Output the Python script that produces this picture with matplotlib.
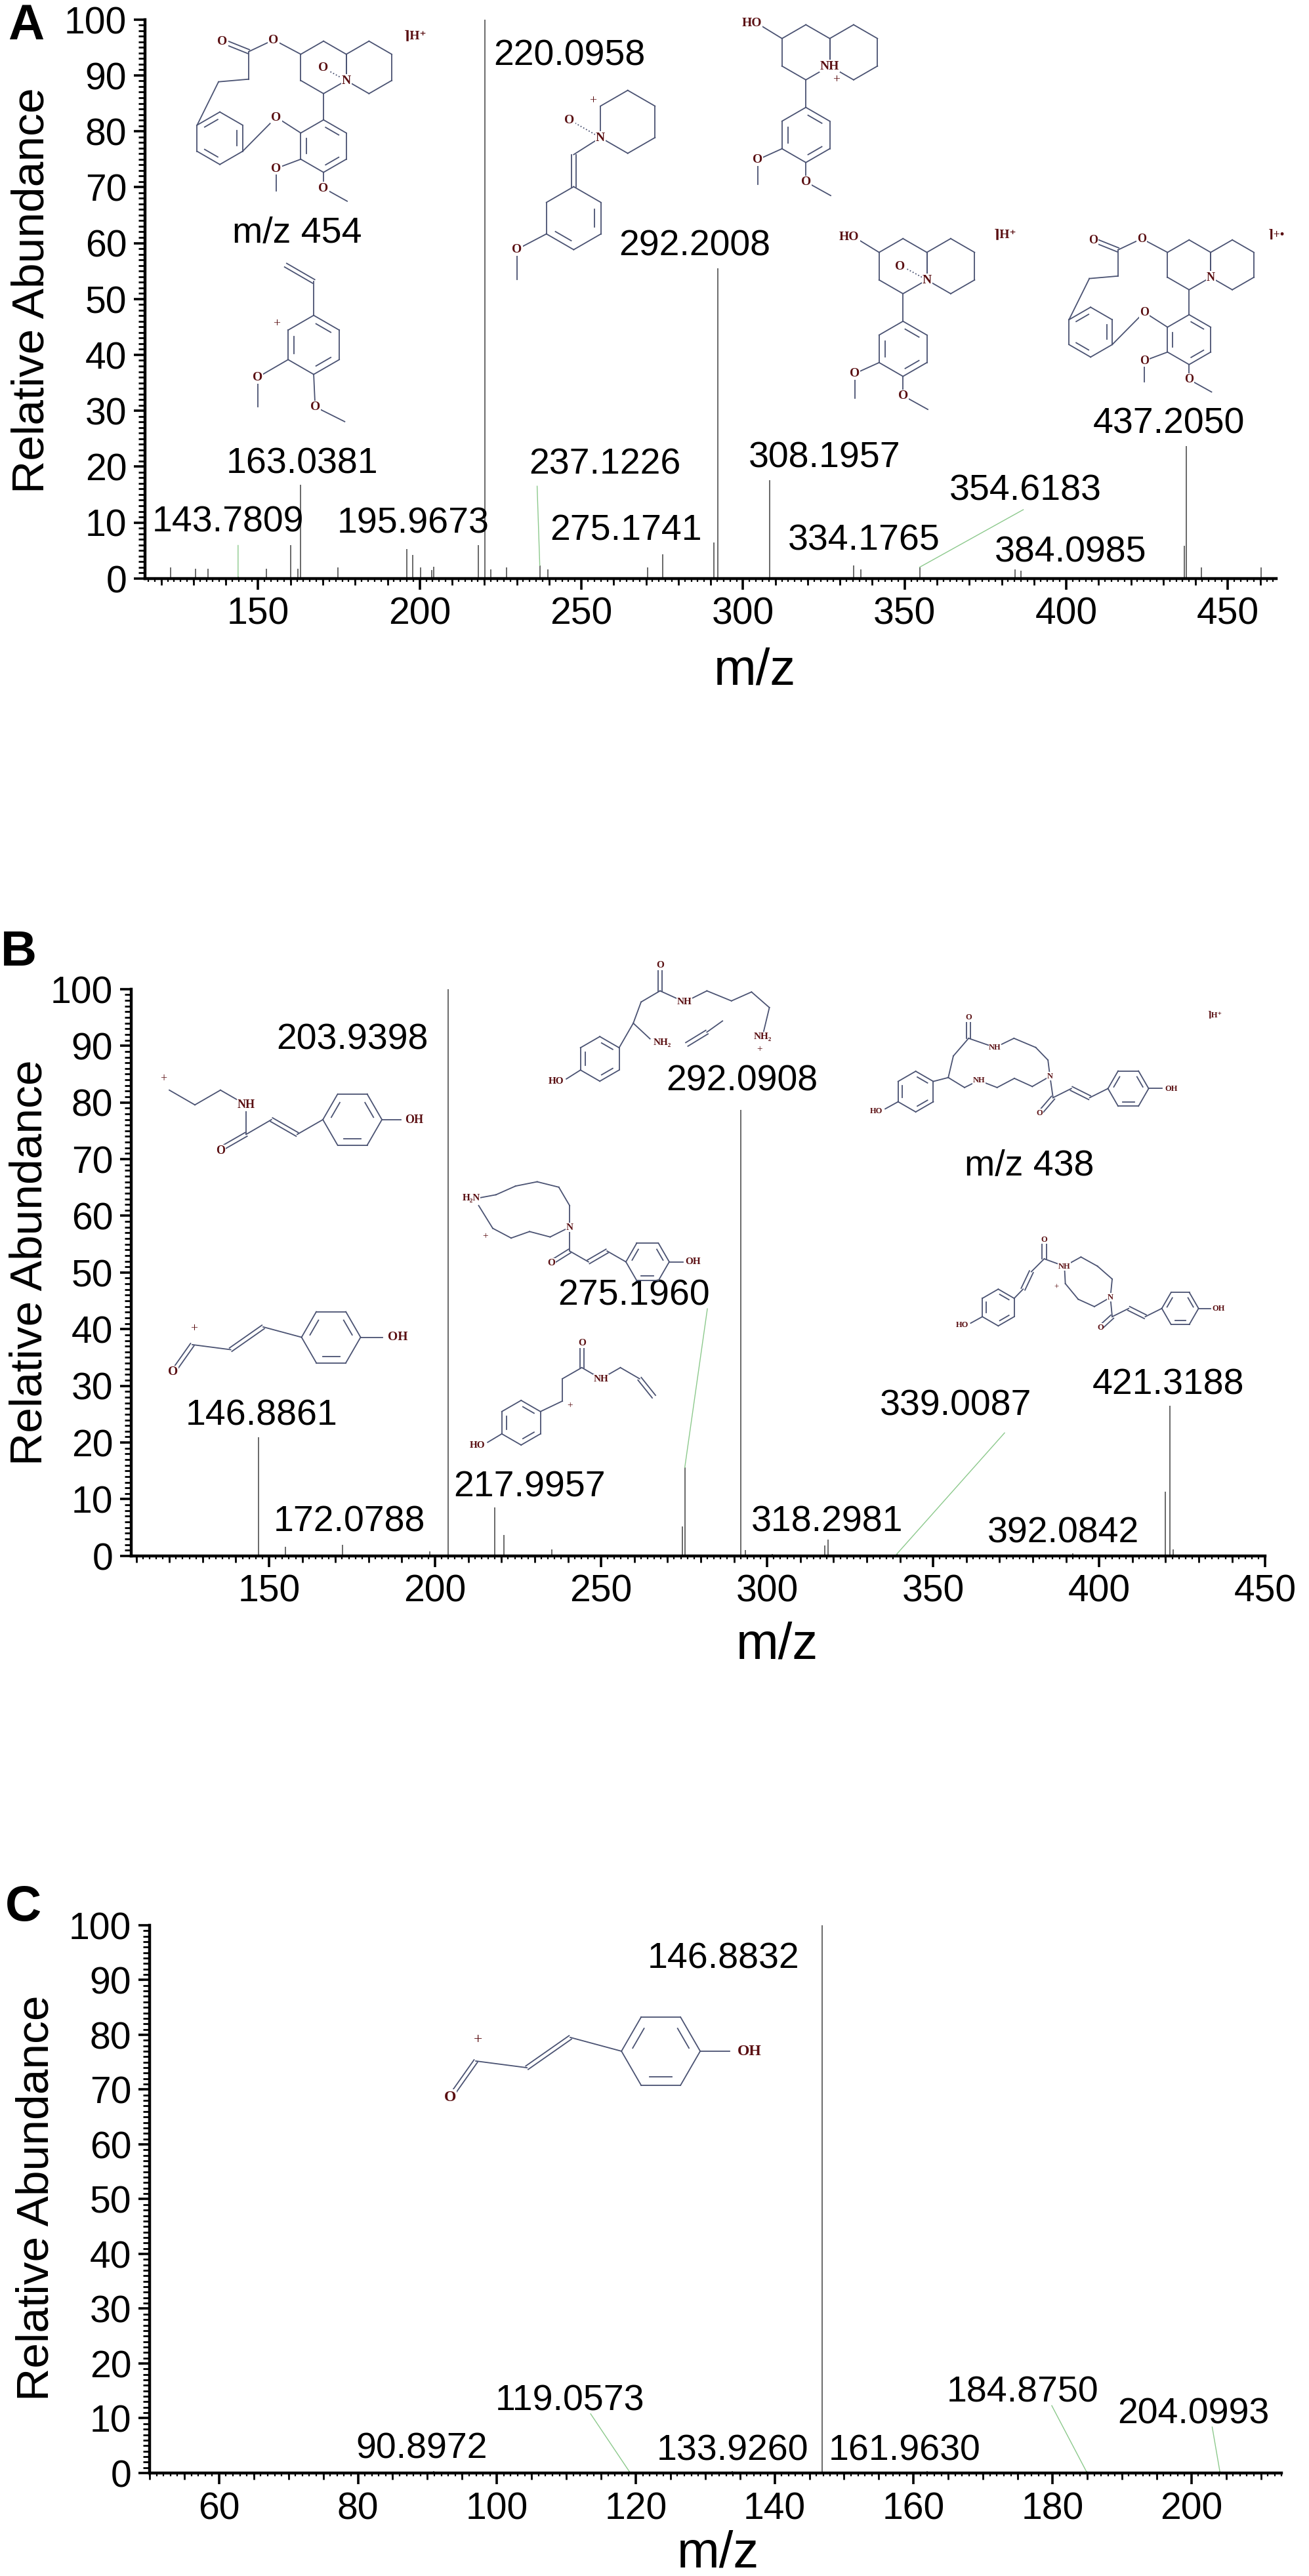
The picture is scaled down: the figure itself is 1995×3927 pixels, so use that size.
import numpy as np
import matplotlib
matplotlib.use('Agg')
import matplotlib.pyplot as plt
from matplotlib.ticker import MultipleLocator

plt.rcParams['font.family'] = ['Liberation Sans', 'DejaVu Sans']

W, H, DPI = 1995, 3927, 100
SERIF = ['Liberation Serif', 'DejaVu Serif']
PEAK = '#404040'
LEAD = '#8cc98c'
BOND = '#4a5272'
ATOM = '#5a0f12'

# ---------------- data (m/z, relative abundance) ----------------
a_mz = [123.0, 130.7, 134.5, 143.7809, 152.5, 160.0, 162.2, 163.0381, 174.6,
        195.9673, 197.8, 200.3, 203.6, 204.4, 218.2, 220.0958, 221.9, 226.8,
        237.1226, 239.7, 270.4, 275.1741, 291.0, 292.2008, 308.1957, 334.1765,
        336.5, 354.6183, 384.0985, 386.0, 436.5, 437.2050, 441.9, 460.2]
a_int = [2.0, 1.7, 1.7, 0.3, 1.7, 5.9, 1.7, 16.8, 2.0,
         5.2, 4.2, 2.0, 1.5, 2.1, 5.9, 100, 1.6, 2.0,
         2.3, 1.6, 2.0, 4.3, 6.4, 55.5, 17.6, 2.3,
         1.6, 2.0, 1.6, 1.4, 5.8, 23.7, 2.0, 2.0]
a_labels = ['143.7809', '163.0381', '195.9673', '220.0958', '237.1226', '275.1741',
            '292.2008', '308.1957', '334.1765', '354.6183', '384.0985', '437.2050']

b_mz = [146.8861, 155.0, 172.0788, 198.4, 203.9398, 217.9957, 220.8, 235.2,
        274.5, 275.1960, 292.0908, 293.4, 301.5, 317.4, 318.2981, 339.0087,
        392.0842, 420.0, 421.3188, 422.3]
b_int = [20.9, 1.6, 2.0, 0.8, 100, 8.5, 3.7, 1.2,
         5.2, 15.6, 78.7, 1.0, 0.3, 1.8, 2.9, 0.3,
         0.4, 11.3, 26.5, 1.2]
b_labels = ['146.8861', '172.0788', '203.9398', '217.9957', '275.1960',
            '292.0908', '318.2981', '339.0087', '392.0842', '421.3188']

c_mz = [90.8972, 119.0573, 133.9260, 146.8832, 161.9630, 184.8750, 204.0993]
c_int = [0.3, 0.3, 0.3, 100, 0.3, 0.3, 0.3]
c_labels = ['90.8972', '119.0573', '133.9260', '146.8832', '161.9630', '184.8750', '204.0993']

# ---------------- layout ----------------
a_lab_pos = [(140.6, 10.0), (163.6, 20.5), (197.9, 9.8), (246.2, 93.5), (257.3, 20.4),
             (263.7, 8.5), (285.0, 59.5), (325.3, 21.6), (337.5, 6.8), (387.4, 15.7),
             (401.4, 4.6), (431.7, 27.7)]
a_leaders = {'143.7809': (143.78, 5.9), '237.1226': (236.3, 16.5), '354.6183': (386.7, 12.3)}
b_lab_pos = [(147.8, 24.7), (174.2, 6.0), (175.0, 91.1), (228.5, 12.1), (259.9, 45.9),
             (292.5, 83.7), (318.0, 6.0), (356.7, 26.5), (389.2, 4.0), (420.7, 30.2)]
b_leaders = {'275.1960': (282.0, 43.6), '339.0087': (371.5, 21.7)}
c_lab_pos = [(89.2, 4.4), (110.5, 13.2), (133.9, 4.1), (132.6, 93.8), (158.7, 4.1),
             (175.7, 14.7), (200.3, 10.8)]
c_leaders = {'119.0573': (113.5, 10.8), '184.8750': (179.9, 12.3), '204.0993': (203.0, 8.4)}


def rect(l, r, t, b):
    return [l / W, 1 - b / H, (r - l) / W, (b - t) / H]


def style_axes(ax, xlim, major, minor, tiny):
    ax.set_xlim(*xlim)
    ax.set_ylim(0, 100)
    for sp in ['top', 'right']:
        ax.spines[sp].set_visible(False)
    for sp in ['left', 'bottom']:
        ax.spines[sp].set_linewidth(3.2)
    ax.xaxis.set_major_locator(MultipleLocator(major))
    ax.xaxis.set_minor_locator(MultipleLocator(minor))
    ax.yaxis.set_major_locator(MultipleLocator(10))
    ax.yaxis.set_minor_locator(MultipleLocator(1))
    ax.tick_params(which='major', length=12, width=2.6, labelsize=41, pad=8)
    ax.tick_params(which='minor', length=7, width=2.0)
    sec = ax.secondary_xaxis('bottom')
    sec.xaxis.set_major_locator(MultipleLocator(tiny))
    sec.tick_params(length=3.5, width=1.6, labelbottom=False)
    sec.spines['bottom'].set_visible(False)


def draw_spectrum(ax, mz, inten, labels, lab_pos, leaders):
    ax.vlines(mz, 0, inten, color=PEAK, lw=1.1)
    for t, (x, y) in zip(labels, lab_pos):
        ax.text(x, y, t, ha='center', va='center', fontsize=40)
    for t, (x0, y0) in leaders.items():
        i = mz.index(float(t))
        ax.plot([x0, mz[i]], [y0, inten[i]], color=LEAD, lw=1.0)


# ---------------- structure sketches (pixel overlay) ----------------
def hexv(c, rot=0.0):
    a = np.radians(rot + 60 * np.arange(6))
    return np.column_stack([c[0] + np.sin(a), c[1] - np.cos(a)])


class Sketch:
    def __init__(self, ax, ox, oy, s, fs):
        self.ax, self.ox, self.oy, self.s, self.fs = ax, ox, oy, s, fs

    def xy(self, p):
        return self.ox + self.s * p[0], self.oy + self.s * p[1]

    def bond(self, p, q, order=1, ls='-'):
        (x1, y1), (x2, y2) = self.xy(p), self.xy(q)
        if order == 1:
            self.ax.plot([x1, x2], [y1, y2], color=BOND, lw=1.3, ls=ls, zorder=3)
            return
        n = np.hypot(x2 - x1, y2 - y1)
        dx, dy = -(y2 - y1) / n * 3.2, (x2 - x1) / n * 3.2
        for k in (-1, 1):
            self.ax.plot([x1 + k * dx, x2 + k * dx], [y1 + k * dy, y2 + k * dy],
                         color=BOND, lw=1.3, zorder=3)

    def chain(self, pts):
        for p, q in zip(pts[:-1], pts[1:]):
            self.bond(p, q)

    def ring(self, c, rot=0, inner=()):
        v = hexv(c, rot)
        c = np.asarray(c, float)
        for k in range(6):
            self.bond(v[k], v[(k + 1) % 6])
        for k in inner:
            a = v[k] + (c - v[k]) * 0.24
            b = v[(k + 1) % 6] + (c - v[(k + 1) % 6]) * 0.24
            self.bond(a + (b - a) * 0.12, b - (b - a) * 0.12)
        return v

    def atom(self, p, text, size=None, box=True, bold=True):
        x, y = self.xy(p)
        self.ax.text(x, y, text, color=ATOM, fontsize=size or self.fs,
                     fontweight='bold' if bold else 'normal', family=SERIF,
                     ha='center', va='center', zorder=4,
                     bbox=dict(boxstyle='square,pad=0.05', fc='white', ec='none') if box else None)


def macrocycle(sk, oxide, charge):
    sk.ring((0, 0))
    sk.ring((1.732, 0))
    sk.ring((0, 3), inner=(0, 2, 4))
    sk.ring((-3.95, 2.7), inner=(1, 3, 5))
    sk.bond((0, 1), (0, 2))
    sk.chain([(-0.866, -0.5), (-1.9, -1.05), (-2.85, -0.6), (-2.85, 0.45), (-4.0, 0.55), (-4.816, 2.2)])
    sk.bond((-2.85, -0.6), (-3.85, -1.0), 2)
    sk.chain([(-0.866, 2.5), (-1.8, 1.9), (-3.084, 3.2)])
    sk.chain([(-0.866, 3.5), (-1.8, 3.85), (-1.8, 4.7)])
    sk.chain([(0, 4), (0, 4.6), (0.9, 5.1)])
    for p in [(-1.9, -1.05), (-3.85, -1.0), (-1.8, 1.9), (-1.8, 3.85), (0, 4.6)]:
        sk.atom(p, 'O')
    sk.atom((0.866, 0.5), 'N')
    if oxide:
        sk.bond((0.05, 0.05), (0.866, 0.5), ls=':')
        sk.atom((0.0, 0.0), 'O')
    sk.atom((3.5, -1.2), charge, box=False)


def quinolizidine(sk, nlabel, oxide, charge, plus=False):
    sk.ring((0, 0))
    sk.ring((1.732, 0))
    sk.ring((0, 3), inner=(0, 2, 4))
    sk.bond((0, 1), (0, 2))
    sk.bond((-0.866, -0.5), (-1.6, -0.95))
    sk.atom((-1.95, -1.05), 'HO')
    sk.chain([(-0.866, 3.5), (-1.75, 3.9), (-1.75, 4.8)])
    sk.chain([(0, 4), (0, 4.7), (0.9, 5.2)])
    sk.atom((-1.75, 3.9), 'O')
    sk.atom((0, 4.7), 'O')
    sk.atom((0.866, 0.5), nlabel)
    if plus:
        sk.atom((1.1, 1.0), '+', box=False, bold=False)
    if oxide:
        sk.bond((0.05, 0.05), (0.866, 0.5), ls=':')
        sk.atom((-0.1, 0.0), 'O')
    if charge:
        sk.atom((3.7, -1.15), charge, box=False)


def acylium(sk):
    sk.bond((0, 0), (-0.6, 0.85), 2)
    sk.atom((-0.65, 0.92), 'O')
    sk.atom((0.05, -0.55), '+', box=False, bold=False)
    sk.bond((0, 0), (1.3, 0.17))
    sk.bond((1.3, 0.17), (2.4, -0.6), 2)
    sk.bond((2.4, -0.6), (3.7, -0.25))
    sk.ring((4.7, -0.25), rot=30, inner=(0, 2, 4))
    sk.bond((5.7, -0.25), (6.45, -0.25))
    sk.atom((6.95, -0.25), 'OH')


fig = plt.figure(figsize=(19.953, 39.273), dpi=DPI)
fig.patch.set_facecolor('white')

ax_a = fig.add_axes(rect(221, 1945, 30, 882))
style_axes(ax_a, (115, 465), 50, 10, 2)
draw_spectrum(ax_a, a_mz, a_int, a_labels, a_lab_pos, a_leaders)

ax_b = fig.add_axes(rect(200, 1928, 1508, 2372))
style_axes(ax_b, (108.5, 450), 50, 10, 2)
draw_spectrum(ax_b, b_mz, b_int, b_labels, b_lab_pos, b_leaders)
ax_b.text(379, 68.8, 'm/z 438', ha='center', va='center', fontsize=40)

ax_c = fig.add_axes(rect(228, 1953, 2935, 3770))
style_axes(ax_c, (50, 213), 20, 5, 1)
draw_spectrum(ax_c, c_mz, c_int, c_labels, c_lab_pos, c_leaders)

# axis titles and panel letters
for x, y in [(48, 443), (45, 1925), (55, 3350)]:
    fig.text(x / W, 1 - y / H, 'Relative Abundance', rotation=90, fontsize=50,
             ha='center', va='center')
for x, y in [(1150, 1023), (1184, 2508), (1094, 3893)]:
    fig.text(x / W, 1 - y / H, 'm/z', fontsize=56, ha='center', va='center')
for t, x, y in [('A', 40, 40), ('B', 28, 1452), ('C', 35, 2908)]:
    fig.text(x / W, 1 - y / H, t, fontsize=55, fontweight='bold', ha='center', va='center')

ov = fig.add_axes([0, 0, 1, 1], zorder=5)
ov.set_xlim(0, W)
ov.set_ylim(H, 0)
ov.axis('off')

# panel A structures
macrocycle(Sketch(ov, 493, 103, 40, 14), True, '⌉H⁺')
ov.text(453, 356, 'm/z 454', fontsize=40, ha='center', va='center')

sk = Sketch(ov, 478, 526, 45, 14)
sk.ring((0, 0), inner=(0, 2, 4))
sk.bond((0, -1), (0, -2.15))
sk.bond((0, -2.15), (-0.95, -2.7), 2)
sk.atom((-1.25, -0.72), '+', box=False, bold=False)
sk.chain([(-0.866, 0.5), (-1.9, 1.1), (-1.9, 2.1)])
sk.atom((-1.9, 1.1), 'O')
sk.chain([(0, 1), (0.05, 2.1), (1.05, 2.6)])
sk.atom((0.05, 2.1), 'O')

sk = Sketch(ov, 915, 210, 48, 14)
sk.ring((0.866, -0.5))
sk.atom((-0.25, -1.17), '+', box=False, bold=False)
sk.bond((-0.98, -0.56), (0, 0), ls=':')
sk.atom((-0.98, -0.56), 'O')
sk.bond((0, 0), (-0.85, 0.54))
sk.bond((-0.85, 0.54), (-0.85, 1.56), 2)
sk.ring((-0.85, 2.56), inner=(1, 3))
sk.chain([(-1.716, 3.06), (-2.65, 3.55), (-2.65, 4.5)])
sk.atom((-2.65, 3.55), 'O')
sk.atom((0, 0), 'N')

quinolizidine(Sketch(ov, 1228, 80, 42, 14), 'NH', False, None, plus=True)
quinolizidine(Sketch(ov, 1376, 406, 42, 14), 'N', True, '⌉H⁺')
macrocycle(Sketch(ov, 1812, 404, 38, 13), False, '⌉+•')

# panel B structures
sk = Sketch(ov, 258, 1662, 45, 13)
sk.atom((-0.2, -0.4), '+', box=False, bold=False)
sk.chain([(0, 0), (0.866, 0.5), (1.732, 0), (2.6, 0.5), (2.6, 1.5), (3.46, 1.0)])
sk.bond((2.6, 1.5), (1.73, 2.0), 2)
sk.bond((3.46, 1.0), (4.33, 1.5), 2)
sk.bond((4.33, 1.5), (5.2, 1.0))
sk.ring((6.2, 1.0), rot=30, inner=(0, 2, 4))
sk.bond((7.2, 1.0), (7.85, 1.0))
sk.atom((2.6, 0.5), 'NH')
sk.atom((1.73, 2.05), 'O')
sk.atom((8.3, 1.0), 'OH')

acylium(Sketch(ov, 293, 2050, 45, 14))

sk = Sketch(ov, 965, 1560, 34, 11)
sk.ring((-1.5, 1.6), inner=(0, 2, 4))
sk.bond((-0.634, 1.1), (0, 0))
sk.bond((-2.366, 2.1), (-3.0, 2.5))
sk.atom((-3.45, 2.6), 'HO')
sk.chain([(0, 0), (0.35, -0.95), (1.2, -1.45), (2.3, -0.95), (3.3, -1.45), (4.4, -1.0),
          (5.3, -1.4), (6.1, -0.7), (5.8, 0.55)])
sk.bond((1.2, -1.45), (1.2, -2.5), 2)
sk.atom((1.2, -2.6), 'O')
sk.atom((2.3, -0.95), 'NH')
sk.bond((0, 0), (0.75, 0.7))
sk.atom((1.3, 0.85), 'NH₂')
sk.bond((2.4, 0.95), (3.3, 0.4), 2)
sk.bond((3.3, 0.4), (4.0, -0.1))
sk.atom((5.8, 0.6), 'NH₂')
sk.atom((5.65, 1.15), '+', box=False, bold=False)

sk = Sketch(ov, 868, 1871, 33, 11)
sk.chain([(0, 0), (0, -1.0), (-0.5, -1.85), (-1.5, -2.1), (-2.5, -1.9), (-3.4, -1.5), (-4.2, -1.35)])
sk.chain([(0, 0), (-0.9, 0.45), (-1.85, 0.2), (-2.7, 0.5), (-3.55, 0.05), (-4.2, -1.0)])
sk.atom((-4.55, -1.35), 'H₂N')
sk.atom((-3.9, 0.4), '+', box=False, bold=False)
sk.bond((0, 0), (0, 1.1))
sk.bond((0, 1.1), (-0.8, 1.6), 2)
sk.atom((-0.85, 1.65), 'O')
sk.bond((0, 1.1), (0.87, 1.6))
sk.bond((0.87, 1.6), (1.73, 1.1), 2)
sk.bond((1.73, 1.1), (2.6, 1.6))
sk.ring((3.6, 1.6), rot=30, inner=(0, 2, 4))
sk.bond((4.6, 1.6), (5.25, 1.6))
sk.atom((5.7, 1.6), 'OH')
sk.atom((0, 0), 'N')

sk = Sketch(ov, 857, 2136, 34, 11)
sk.ring((-1.85, 0.97), inner=(0, 2, 4))
sk.bond((-0.984, 0.47), (0, 0))
sk.bond((-2.716, 1.47), (-3.35, 1.85))
sk.atom((-3.8, 1.97), 'HO')
sk.atom((0.35, 0.2), '+', box=False, bold=False)
sk.chain([(0, 0), (0, -1.0), (0.87, -1.5), (1.73, -1.0), (2.6, -1.5), (3.46, -1.0)])
sk.bond((0.87, -1.5), (0.87, -2.45), 2)
sk.atom((0.87, -2.6), 'O')
sk.atom((1.73, -1.0), 'NH')
sk.bond((3.46, -1.0), (4.1, -0.2), 2)

sk = Sketch(ov, 1600, 1641, 31, 9)
sk.chain([(-4.0, -1.87), (-2.7, -1.42), (-1.77, -1.87), (-0.7, -1.42), (-0.1, -0.8), (0, 0)])
sk.bond((-4.0, -1.87), (-4.0, -2.8), 2)
sk.atom((-4.0, -2.9), 'O')
sk.atom((-2.7, -1.42), 'NH')
sk.chain([(-4.0, -1.87), (-4.75, -1.0), (-5.0, 0.06)])
sk.chain([(-5.0, 0.06), (-4.2, 0.55), (-3.5, 0.2), (-2.6, 0.55), (-1.75, 0.1), (-0.87, 0.5), (0, 0)])
sk.atom((-3.5, 0.2), 'NH')
sk.ring((-6.6, 0.75), inner=(0, 2, 4))
sk.bond((-5.734, 0.25), (-5.0, 0.06))
sk.bond((-7.466, 1.25), (-8.1, 1.6))
sk.atom((-8.55, 1.7), 'HO')
sk.bond((0, 0), (0.15, 1.05))
sk.bond((0.15, 1.05), (-0.45, 1.75), 2)
sk.atom((-0.5, 1.8), 'O')
sk.bond((0.15, 1.05), (1.05, 0.6))
sk.bond((1.05, 0.6), (1.95, 1.05), 2)
sk.bond((1.95, 1.05), (2.85, 0.6))
sk.ring((3.85, 0.6), rot=30, inner=(0, 2, 4))
sk.bond((4.85, 0.6), (5.5, 0.6))
sk.atom((5.95, 0.6), 'OH')
sk.atom((0, 0), 'N')
sk.atom((8.1, -3.0), '⌉H⁺', box=False)

sk = Sketch(ov, 1692, 1978, 28, 9)
sk.chain([(-2.5, -1.7), (-1.6, -2.2), (-0.7, -1.7), (0.1, -1.0), (0, 0)])
sk.bond((-2.5, -1.7), (-3.6, -2.1))
sk.bond((-3.6, -2.1), (-3.6, -3.05), 2)
sk.atom((-3.6, -3.15), 'O')
sk.chain([(0, 0), (-0.87, 0.5), (-1.75, 0.1), (-2.45, -0.75), (-2.5, -1.7)])
sk.atom((-2.95, -0.55), '+', box=False, bold=False)
sk.atom((-2.5, -1.7), 'NH')
sk.bond((-3.6, -2.1), (-4.3, -1.4))
sk.bond((-4.3, -1.4), (-4.75, -0.45), 2)
sk.ring((-6.1, 0.55), inner=(0, 2, 4))
sk.bond((-5.234, 0.05), (-4.75, -0.45))
sk.bond((-6.966, 1.05), (-7.6, 1.4))
sk.atom((-8.05, 1.5), 'HO')
sk.bond((0, 0), (0.1, 1.05))
sk.bond((0.1, 1.05), (-0.5, 1.6), 2)
sk.atom((-0.55, 1.65), 'O')
sk.bond((0.1, 1.05), (1.0, 0.6))
sk.bond((1.0, 0.6), (1.9, 1.05), 2)
sk.bond((1.9, 1.05), (2.8, 0.6))
sk.ring((3.8, 0.6), rot=30, inner=(0, 2, 4))
sk.bond((4.8, 0.6), (5.45, 0.6))
sk.atom((5.9, 0.6), 'OH')
sk.atom((0, 0), 'N')

# panel C structure
acylium(Sketch(ov, 725, 3142, 60, 17))

fig.savefig('out.png', dpi=DPI)
